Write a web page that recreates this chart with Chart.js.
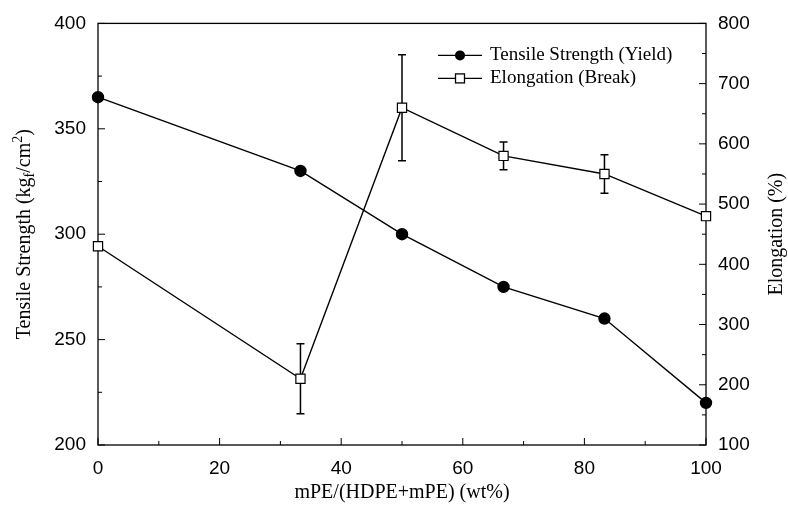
<!DOCTYPE html>
<html>
<head>
<meta charset="utf-8">
<script src="https://cdn.jsdelivr.net/npm/chart.js@4.4.0/dist/chart.umd.min.js"></script>
<style>
  html, body { margin: 0; padding: 0; background: #fff; }
  #wrap { width: 788px; height: 515px; }
</style>
</head>
<body>
<div id="wrap"><canvas id="chart" width="788" height="515"></canvas></div>
<script>
// values
const mpeContent = [0, 33.3, 50, 66.7, 83.3, 100];
const tensileStrength = [365, 330, 300, 275, 260, 220];
const elongation = [430, 210, 660, 580, 550, 480];
const elongationErr = [0, 58, 88, 23, 32, 6];

const xTicks = [0, 20, 40, 60, 80, 100];
const leftTicks = [200, 250, 300, 350, 400];
const rightTicks = [100, 200, 300, 400, 500, 600, 700, 800];

const SANS = "'Liberation Sans', Arial, sans-serif";
const SERIF = "'Liberation Serif', 'Times New Roman', serif";

// frame, inward ticks and error bars, under the data
const frameTicks = {
    id: 'frameTicks',
    beforeDatasetsDraw(chart) {
        const { ctx, chartArea: a, scales } = chart;
        ctx.save();
        ctx.strokeStyle = '#000';
        ctx.lineWidth = 1.3;
        ctx.strokeRect(a.left, a.top, a.right - a.left, a.bottom - a.top);

        ctx.lineWidth = 1;
        ctx.beginPath();
        for (let v = 0; v <= 100; v += 10) {
            const px = scales.x.getPixelForValue(v);
            const len = v % 20 === 0 ? 7 : 4;
            ctx.moveTo(px, a.bottom);
            ctx.lineTo(px, a.bottom - len);
        }
        for (let v = 200; v <= 400; v += 25) {
            const py = scales.y.getPixelForValue(v);
            const len = v % 50 === 0 ? 7 : 4;
            ctx.moveTo(a.left, py);
            ctx.lineTo(a.left + len, py);
        }
        for (let v = 100; v <= 800; v += 50) {
            const py = scales.y1.getPixelForValue(v);
            const len = v % 100 === 0 ? 7 : 4;
            ctx.moveTo(a.right, py);
            ctx.lineTo(a.right - len, py);
        }
        ctx.stroke();

        // error bars on elongation
        ctx.lineWidth = 1.5;
        ctx.beginPath();
        mpeContent.forEach((xv, i) => {
            const e = elongationErr[i];
            if (!e) return;
            const px = scales.x.getPixelForValue(xv);
            const top = scales.y1.getPixelForValue(elongation[i] + e);
            const bot = scales.y1.getPixelForValue(elongation[i] - e);
            ctx.moveTo(px, top); ctx.lineTo(px, bot);
            ctx.moveTo(px - 4, top); ctx.lineTo(px + 4, top);
            ctx.moveTo(px - 4, bot); ctx.lineTo(px + 4, bot);
        });
        ctx.stroke();
        ctx.restore();
    },
    afterDraw(chart) {
        const { ctx, chartArea: a } = chart;
        ctx.save();
        ctx.fillStyle = '#000';
        ctx.textBaseline = 'middle';

        // left title with sub/superscript
        ctx.save();
        ctx.translate(25, (a.top + a.bottom) / 2);
        ctx.rotate(-Math.PI / 2);
        const parts = [
            ['Tensile Strength (kg', 20, 0],
            ['f', 14, 5],
            ['/cm', 20, 0],
            ['2', 14, -7],
            [')', 20, 0]
        ];
        let total = 0;
        parts.forEach(p => { ctx.font = p[1] + 'px ' + SERIF; total += ctx.measureText(p[0]).width; });
        let x = -total / 2;
        ctx.textAlign = 'left';
        parts.forEach(p => {
            ctx.font = p[1] + 'px ' + SERIF;
            ctx.fillText(p[0], x, p[2]);
            x += ctx.measureText(p[0]).width;
        });
        ctx.restore();

        // right title, reads upward
        ctx.save();
        ctx.translate(777, (a.top + a.bottom) / 2);
        ctx.rotate(-Math.PI / 2);
        ctx.textAlign = 'center';
        ctx.font = '20px ' + SERIF;
        ctx.fillText('Elongation (%)', 0, 0);
        ctx.restore();

        // legend inside plot
        const rows = [a.top + 32, a.top + 55];
        const lx = a.right - 268;
        chart.data.datasets.forEach((ds, i) => {
            const y = rows[i];
            ctx.strokeStyle = '#000';
            ctx.lineWidth = 1.3;
            ctx.beginPath();
            ctx.moveTo(lx, y); ctx.lineTo(lx + 44, y);
            ctx.stroke();
            const cx = lx + 22;
            if (ds.pointStyle === 'circle') {
                ctx.beginPath();
                ctx.arc(cx, y, 5, 0, Math.PI * 2);
                ctx.fillStyle = '#000';
                ctx.fill();
            } else {
                ctx.fillStyle = '#fff';
                ctx.fillRect(cx - 4.5, y - 4.5, 9, 9);
                ctx.strokeRect(cx - 4.5, y - 4.5, 9, 9);
            }
            ctx.fillStyle = '#000';
            ctx.font = '19px ' + SERIF;
            ctx.textAlign = 'left';
            ctx.fillText(ds.label, lx + 52, y);
        });
        ctx.restore();
    }
};

const ctx = document.getElementById('chart').getContext('2d');

new Chart(ctx, {
    type: 'line',
    data: {
        datasets: [
            {
                label: 'Tensile Strength (Yield)',
                data: mpeContent.map((x, i) => ({ x: x, y: tensileStrength[i] })),
                yAxisID: 'y',
                borderColor: '#000',
                borderWidth: 1.4,
                pointStyle: 'circle',
                pointRadius: 5.5,
                pointBackgroundColor: '#000',
                pointBorderColor: '#000',
                tension: 0
            },
            {
                label: 'Elongation (Break)',
                data: mpeContent.map((x, i) => ({ x: x, y: elongation[i] })),
                yAxisID: 'y1',
                borderColor: '#000',
                borderWidth: 1.4,
                pointStyle: 'rect',
                pointRadius: 6.5,
                pointBorderWidth: 1.2,
                pointBackgroundColor: '#fff',
                pointBorderColor: '#000',
                tension: 0
            }
        ]
    },
    options: {
        responsive: false,
        animation: false,
        clip: false,
        layout: { padding: { top: 15, right: 0, left: 0, bottom: 0 } },
        plugins: {
            legend: { display: false },
            tooltip: { enabled: false }
        },
        scales: {
            x: {
                type: 'linear',
                min: 0,
                max: 100,
                afterBuildTicks: s => { s.ticks = xTicks.map(v => ({ value: v })); },
                afterFit: s => { s.height = 70; },
                grid: { display: false, drawTicks: false },
                border: { display: false },
                ticks: { color: '#000', font: { family: SANS, size: 19 }, padding: 12, maxRotation: 0 },
                title: {
                    display: true,
                    text: 'mPE/(HDPE+mPE) (wt%)',
                    color: '#000',
                    font: { family: SERIF, size: 20 },
                    padding: { top: 0, bottom: 10 }
                }
            },
            y: {
                position: 'left',
                min: 200,
                max: 400,
                afterBuildTicks: s => { s.ticks = leftTicks.map(v => ({ value: v })); },
                afterFit: s => { s.width = 98; },
                grid: { display: false, drawTicks: false },
                border: { display: false },
                ticks: { color: '#000', font: { family: SANS, size: 19 }, padding: 12 }
            },
            y1: {
                position: 'right',
                min: 100,
                max: 800,
                afterBuildTicks: s => { s.ticks = rightTicks.map(v => ({ value: v })); },
                afterFit: s => { s.width = 82; },
                grid: { display: false, drawTicks: false },
                border: { display: false },
                ticks: { color: '#000', font: { family: SANS, size: 19 }, padding: 12 }
            }
        }
    },
    plugins: [frameTicks]
});
</script>
</body>
</html>
